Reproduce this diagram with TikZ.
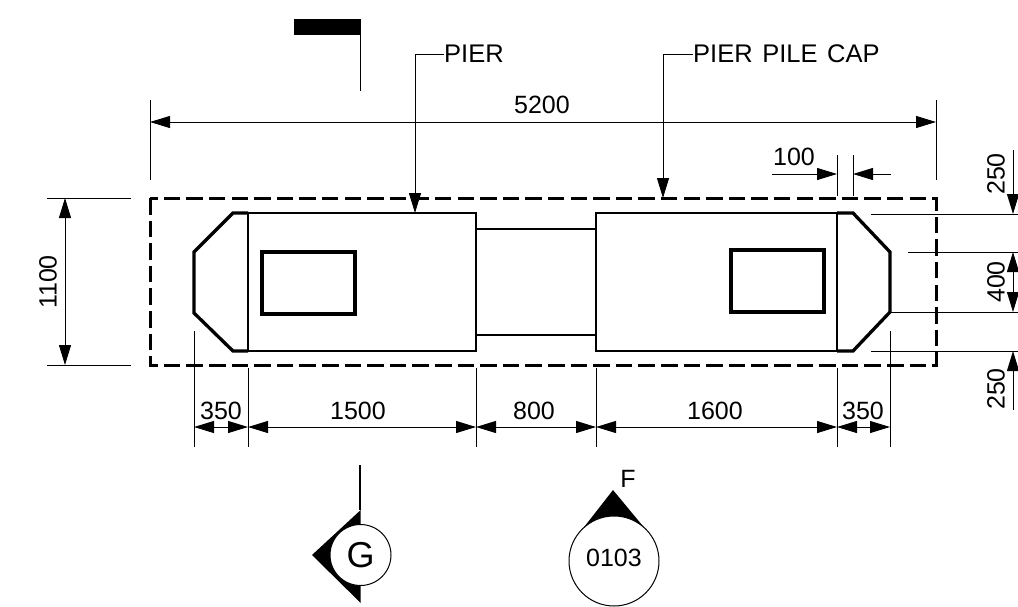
\documentclass[tikz,border=0pt]{standalone}
\usepackage{fontspec}
\setmainfont{Liberation Sans}
\usetikzlibrary{arrows.meta}
\tikzset{
  thinl/.style={line width=1pt,black},
  heavy/.style={line width=3.3pt,black,line join=miter},
  body/.style={line width=2.7pt,black,line join=miter},
  inner/.style={line width=4pt,black,line join=miter},
  mid/.style={line width=2pt,black},
  dim/.style={thinl,{Triangle[length=20pt,width=12pt]}-{Triangle[length=20pt,width=12pt]}},
  dimend/.style={thinl,-{Triangle[length=20pt,width=12pt]}},
  lbl/.style={inner sep=0pt,font=\fontsize{25}{25}\selectfont},
  rlbl/.style={lbl,rotate=90},
}
\begin{document}
\begin{tikzpicture}[x=1pt,y=-1pt]
\useasboundingbox (0,0) rectangle (1018,606);
% pile cap
\draw[line width=3pt,black,dash pattern=on 16.5pt off 6.1pt] (150,198) rectangle (936,365);
% pier
\draw[mid] (476,229) -- (596,229) (476,335) -- (596,335);
\draw[heavy] (248,213) -- (233,213) -- (194,252) -- (194,313) -- (233,351) -- (248,351);
\draw[body] (248,213) -- (476,213) -- (476,351) -- (248,351) -- cycle;
\draw[body] (837,213) -- (596,213) -- (596,351) -- (837,351) -- cycle;
\draw[heavy] (837,213) -- (853,213) -- (890,252) -- (890,312) -- (853,351) -- (837,351);
\draw[inner] (262,252) rectangle (355,314);
\draw[inner] (731,250) rectangle (824,312);
% extension lines
\draw[thinl] (150,100) -- (150,180) (936,100) -- (936,180);
\draw[thinl] (837,155) -- (837,196) (853,155) -- (853,196);
\draw[thinl] (47,198) -- (131,198) (47,365) -- (131,365);
\draw[thinl] (871,214) -- (1018,214) (908,252) -- (1018,252) (890,312) -- (1018,312) (871,351) -- (1018,351);
\draw[thinl] (194,331) -- (194,447) (248,368) -- (248,447) (476,368) -- (476,447) (596,368) -- (596,447) (837,368) -- (837,447) (890,331) -- (890,447);
% dimension lines
\draw[dim] (150,122) -- (936,122);
\draw[dimend] (772,174) -- (837,174);
\draw[dimend] (891,174) -- (853,174);
\draw[dim] (65,198) -- (65,365);
\draw[dimend] (1013,150) -- (1013,214);
\draw[dim] (1013,252) -- (1013,312);
\draw[dimend] (1013,410) -- (1013,351);
\draw[dim] (194,427) -- (248,427);
\draw[dim] (248,427) -- (476,427);
\draw[dim] (476,427) -- (596,427);
\draw[dim] (596,427) -- (837,427);
\draw[dim] (837,427) -- (890,427);
% dimension labels
\node[lbl] (d5200) at (542,105) {5200};
\node[lbl] (d100) at (794,157) {100};
\node[rlbl] (d1100) at (48,282) {1100};
\node[rlbl] (d250a) at (996,174) {250};
\node[rlbl] (d400) at (996,282) {400};
\node[rlbl] (d250b) at (996,389) {250};
\node[lbl] (d350a) at (221,411) {350};
\node[lbl] (d1500) at (358,411) {1500};
\node[lbl] (d800) at (534,411) {800};
\node[lbl] (d1600) at (715,411) {1600};
\node[lbl] (d350b) at (863,411) {350};
% leaders
\node[lbl,anchor=west,font=\fontsize{25.5}{25.5}\selectfont] (pier) at (444,54) {PIER};
\node[lbl,anchor=west,font=\fontsize{25.5}{25.5}\selectfont] (cap) at (693,54) {PIER\hspace{2.5pt} PILE\hspace{2.5pt} CAP};
\draw[dimend] (pier.west) -- (415,54) -- (415,213);
\draw[dimend] (cap.west) -- (663,54) -- (663,198);
% section mark top
\fill[black] (294,19) rectangle (361,35);
\draw[thinl] (360,35) -- (360,91);
% section mark G
\draw[thinl,line width=1.5pt] (360,465) -- (360,510);
\fill[black] (360.7,510) -- (312,555) -- (360.7,603) -- cycle;
\node[circle,draw,fill=white,line width=1pt,minimum size=61pt,inner sep=0pt,font=\fontsize{36}{36}\selectfont] (g) at (360.5,555) {G};
% detail mark F
\fill[black] (613,490) -- (581,531) -- (647,531) -- cycle;
\node[circle,draw,fill=white,line width=1pt,minimum size=90pt,inner sep=0pt] (f) at (614,561) {};
\node[lbl] (n0103) at (614,558) {0103};
\node[lbl] (fl) at (628,479) {F};
\end{tikzpicture}
\end{document}
